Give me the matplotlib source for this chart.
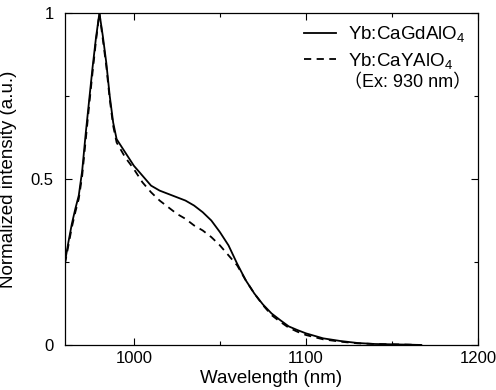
import matplotlib
matplotlib.use("Agg")
import matplotlib.pyplot as plt
from matplotlib.ticker import MultipleLocator

plt.rcParams['font.family'] = ['Liberation Sans', 'Noto Sans CJK JP']
plt.rcParams['mathtext.fontset'] = 'custom'
plt.rcParams['mathtext.rm'] = 'Liberation Sans'
plt.rcParams['mathtext.it'] = 'Liberation Sans'

# Yb:CaGdAlO4 emission (solid)
wl_gd = [960, 962, 964, 966, 968, 970, 972, 974, 976, 978, 980, 982, 984, 986, 988, 990,
         995, 1000, 1005, 1010, 1015, 1020, 1025, 1030, 1035, 1040, 1045, 1050, 1055, 1060,
         1065, 1070, 1075, 1080, 1085, 1090, 1095, 1100, 1110, 1120, 1130, 1140, 1150, 1160, 1167]
int_gd = [0.25, 0.31, 0.365, 0.41, 0.45, 0.525, 0.635, 0.735, 0.835, 0.925, 1.0, 0.93, 0.85, 0.75, 0.67, 0.62,
          0.58, 0.54, 0.51, 0.48, 0.465, 0.455, 0.445, 0.435, 0.42, 0.40, 0.375, 0.34, 0.30, 0.245,
          0.195, 0.155, 0.122, 0.095, 0.075, 0.056, 0.045, 0.035, 0.02, 0.012, 0.006, 0.003, 0.002, 0.001, 0.0]

# Yb:CaYAlO4 emission (dashed)
wl_y = [960, 962, 964, 966, 968, 970, 972, 974, 976, 978, 980, 982, 984, 986, 988, 990,
        995, 1000, 1005, 1010, 1015, 1020, 1025, 1030, 1035, 1040, 1045, 1050, 1055, 1060,
        1065, 1070, 1075, 1080, 1085, 1090, 1095, 1100, 1110, 1120, 1130, 1140, 1150, 1160, 1167]
int_y = [0.245, 0.30, 0.355, 0.40, 0.44, 0.51, 0.615, 0.72, 0.82, 0.915, 1.0, 0.92, 0.84, 0.74, 0.66, 0.61,
         0.565, 0.53, 0.49, 0.46, 0.435, 0.415, 0.395, 0.38, 0.36, 0.345, 0.325, 0.30, 0.27, 0.24,
         0.195, 0.155, 0.12, 0.09, 0.07, 0.052, 0.04, 0.03, 0.017, 0.01, 0.005, 0.003, 0.002, 0.001, 0.0]

yticks = [0, 0.5, 1]
ytick_labels = ['0', '0.5', '1']

fig = plt.figure(figsize=(4.96, 3.9), dpi=100)
ax = fig.add_axes([0.131, 0.1154, 0.833, 0.8513])

ax.plot(wl_gd, int_gd, color='black', linestyle='solid', linewidth=1.3, label='Yb:CaGdAlO$_4$')
ax.plot(wl_y, int_y, color='black', linestyle=(0, (4, 3)), linewidth=1.3, label='Yb:CaYAlO$_4$')

ax.set_xlim(960, 1200)
ax.set_ylim(0, 1)
ax.xaxis.set_major_locator(MultipleLocator(100))
ax.xaxis.set_minor_locator(MultipleLocator(50))
ax.set_yticks(yticks, ytick_labels)
ax.yaxis.set_minor_locator(MultipleLocator(0.25))
ax.tick_params(which='both', direction='in', top=True, right=True, labelsize=12, width=0.8)
ax.tick_params(which='major', length=5)
ax.tick_params(which='minor', length=3)
ax.tick_params(axis='x', pad=4)
ax.tick_params(axis='y', pad=8)
for s in ax.spines.values():
    s.set_linewidth(0.9)

ax.set_xlabel('Wavelength (nm)', fontsize=13.5, labelpad=3)
ax.set_ylabel('Normalized intensity (a.u.)', fontsize=13.5, labelpad=10)

ax.legend(loc='upper right', bbox_to_anchor=(1.0, 1.005), frameon=False, fontsize=13.5,
          handlelength=1.7, handletextpad=0.6, labelspacing=0.35, borderaxespad=0.3)
ax.text(0.675, 0.79, '（Ex: 930 nm）', transform=ax.transAxes, fontsize=13, va='center', ha='left')

fig.savefig('out.png', dpi=100)
